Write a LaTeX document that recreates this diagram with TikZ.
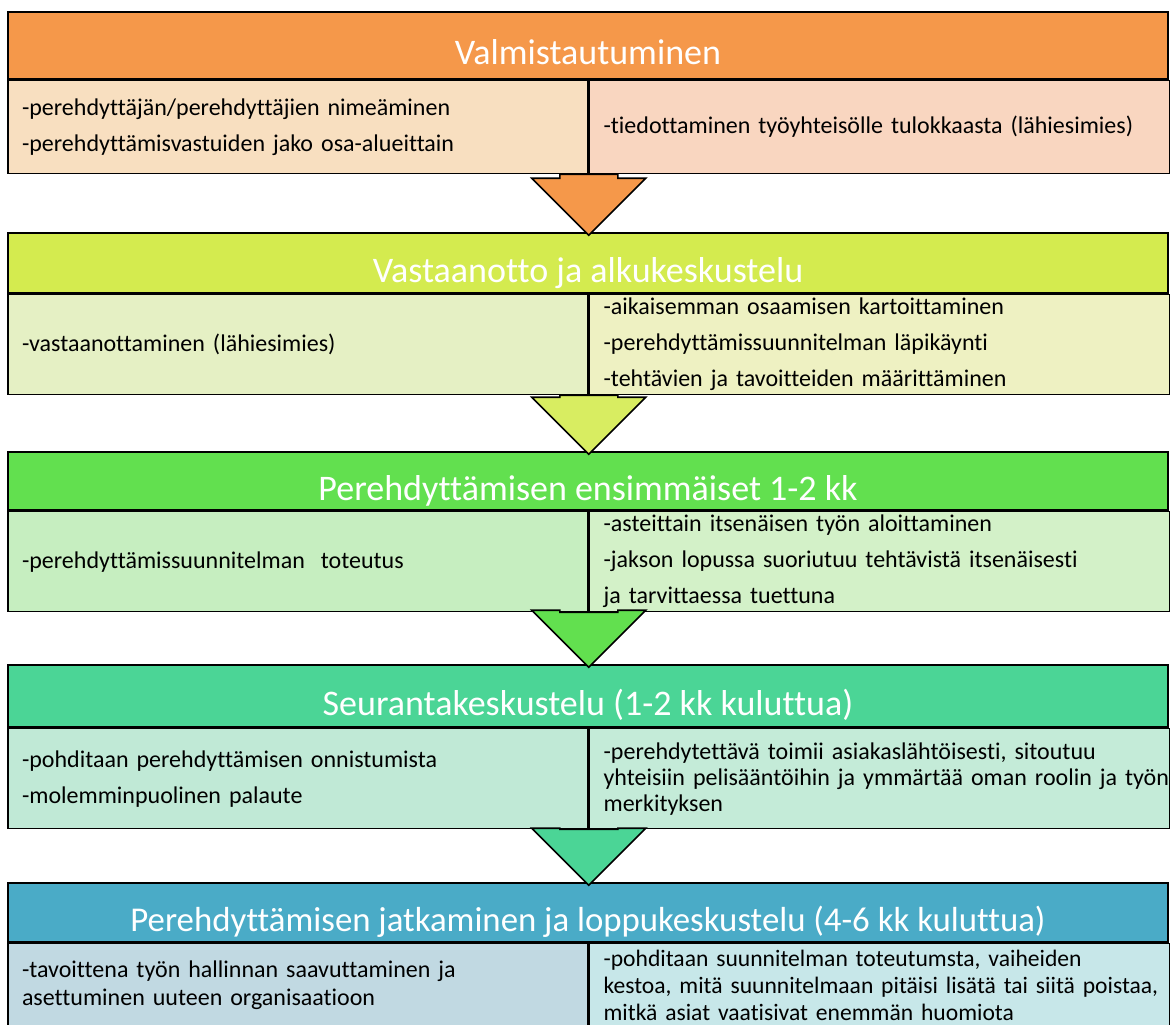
\documentclass[tikz,border=0pt]{standalone}
\usepackage{fontspec}
\setmainfont{Carlito}[Ligatures={TeX,NoCommon}]
\usepackage{tikz}
\usetikzlibrary{positioning, calc}
\definecolor{valmhead}{HTML}{F5984A}
\definecolor{valmleft}{HTML}{F8DFC0}
\definecolor{valmright}{HTML}{F9D6C0}
\definecolor{vasthead}{HTML}{D4EB4F}
\definecolor{vastleft}{HTML}{E5F0C4}
\definecolor{vastright}{HTML}{EEF1C2}
\definecolor{enshead}{HTML}{62E04F}
\definecolor{ensleft}{HTML}{C6EEC0}
\definecolor{ensright}{HTML}{D3F1C8}
\definecolor{seurhead}{HTML}{4BD596}
\definecolor{seurleft}{HTML}{C0E9D6}
\definecolor{seurright}{HTML}{C4EBD8}
\definecolor{jatkhead}{HTML}{4AABC7}
\definecolor{jatkleft}{HTML}{C1D9E2}
\definecolor{jatkright}{HTML}{C7E7E9}
\tikzstyle{phase}=[rectangle, draw=black, line width=0.8pt, minimum width=580pt, inner sep=0pt, text=white, font=\fontsize{18}{22}\selectfont, text height=20pt, text depth=1pt]
\tikzstyle{task}=[rectangle, draw=black, line width=0.8pt, minimum width=290pt, text width=276pt, inner xsep=7pt, inner ysep=0pt, align=left, font=\fontsize{12}{18}\selectfont]
\tikzstyle{flow}=[draw=black, line width=0.8pt, line join=miter]
% block arrow from the divider of one phase down to the next phase
\newcommand{\stepdown}[3]{%
	\coordinate (from) at (#1.south east);
	\path (#1.south east |- #2.north) ++(0,1.5) coordinate (tip);
	\filldraw[flow, fill=#3] ($(from)+(-14.5,0)$) -- ($(tip)+(-14.5,-28.5)$) -- ++(-14,0) -- (tip) -- ++(28.5,-28.5) -- ++(-14,0) -- ($(from)+(14.5,0)$) -- cycle;
}

\begin{document}
\begin{tikzpicture}[x=1pt, y=-1pt]
		\clip (0,0) rectangle (588,512);
		\fill[white] (0,0) rectangle (588,512);
		
		\node(valm)[phase, fill=valmhead, minimum height=33.5pt] at (294,22.75){Valmistautuminen};
		\node(valmL)[task, fill=valmleft, minimum height=46.5pt, below right=0pt and 0pt of valm.south west]{-perehdyttäjän/perehdyttäjien nimeäminen\\-perehdyttämisvastuiden jako osa-alueittain};
		\node(valmR)[task, fill=valmright, minimum height=46.5pt, right=0pt of valmL]{-tiedottaminen työyhteisölle tulokkaasta (lähiesimies)};
		
		\node(vast)[phase, fill=vasthead, minimum height=30pt] at (294,131.5){Vastaanotto ja alkukeskustelu};
		\node(vastL)[task, fill=vastleft, minimum height=50pt, below right=0pt and 0pt of vast.south west]{-vastaanottaminen (lähiesimies)};
		\node(vastR)[task, fill=vastright, minimum height=50pt, right=0pt of vastL]{-aikaisemman osaamisen kartoittaminen\\-perehdyttämissuunnitelman läpikäynti\\-tehtävien ja tavoitteiden määrittäminen};
		
		\node(ens)[phase, fill=enshead, minimum height=29pt] at (294,240.5){Perehdyttämisen ensimmäiset 1-2 kk};
		\node(ensL)[task, fill=ensleft, minimum height=50pt, below right=0pt and 0pt of ens.south west]{-perehdyttämissuunnitelman\ \ toteutus};
		\node(ensR)[task, fill=ensright, minimum height=50pt, right=0pt of ensL]{-asteittain itsenäisen työn aloittaminen\\-jakson lopussa suoriutuu tehtävistä itsenäisesti\\ja tarvittaessa tuettuna};
		
		\node(seur)[phase, fill=seurhead, minimum height=31pt] at (294,348){Seurantakeskustelu (1-2 kk kuluttua)};
		\node(seurL)[task, fill=seurleft, minimum height=50pt, below right=0pt and 0pt of seur.south west]{-pohditaan perehdyttämisen onnistumista\\-molemminpuolinen palaute};
		\node(seurR)[task, fill=seurright, minimum height=50pt, font=\fontsize{12}{13}\selectfont, right=0pt of seurL]{\mbox{-perehdytettävä toimii asiakaslähtöisesti, sitoutuu}\\\mbox{yhteisiin pelisääntöihin ja ymmärtää oman roolin ja työn}\\merkityksen};
		
		\node(jatk)[phase, fill=jatkhead, minimum height=29.5pt, font=\fontsize{17.4}{22}\selectfont] at (294,456.25){Perehdyttämisen jatkaminen ja loppukeskustelu (4-6 kk kuluttua)};
		\node(jatkL)[task, fill=jatkleft, minimum height=42pt, font=\fontsize{12}{14}\selectfont, below right=0pt and 0pt of jatk.south west]{-tavoittena työn hallinnan saavuttaminen ja\\asettuminen uuteen organisaatioon};
		\node(jatkR)[task, fill=jatkright, minimum height=42pt, font=\fontsize{11.8}{13.5}\selectfont, right=0pt of jatkL]{\mbox{-pohditaan suunnitelman toteutumsta, vaiheiden}\\\mbox{kestoa, mitä suunnitelmaan pitäisi lisätä tai siitä poistaa,}\\\mbox{mitkä asiat vaatisivat enemmän huomiota}};
		
		\stepdown{valmL}{vast}{valmhead}
		\stepdown{vastL}{ens}{vasthead!90!white}
		\stepdown{ensL}{seur}{enshead}
		\stepdown{seurL}{jatk}{seurhead}
	\end{tikzpicture}
\end{document}
